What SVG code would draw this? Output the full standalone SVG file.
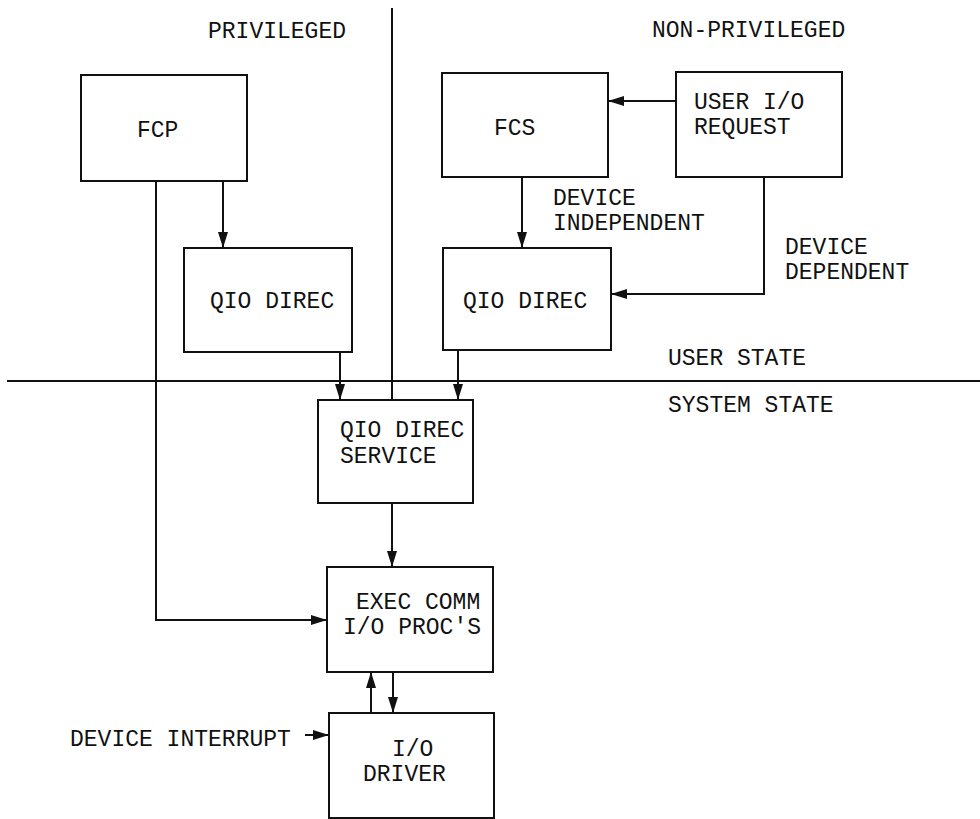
<svg xmlns="http://www.w3.org/2000/svg" width="980" height="819" viewBox="0 0 980 819">
<style>
.box{fill:none;stroke:#111;stroke-width:2}
.ln{fill:none;stroke:#111;stroke-width:2}
.ar{fill:none;stroke:#111;stroke-width:2;marker-end:url(#ah)}
text{font-family:"Liberation Mono","DejaVu Sans Mono",monospace;font-size:23px;fill:#111}
</style>
<defs>
<marker id="ah" markerUnits="userSpaceOnUse" markerWidth="16" markerHeight="10" refX="16" refY="5" orient="auto">
<path d="M0,0 L16,5 L0,10 z" fill="#111"/>
</marker>
</defs>
<rect width="980" height="819" fill="#fff"/>
<g id="dividers">
<path class="ln" d="M392,8 V400"/>
<path class="ln" d="M7,381 H980"/>
</g>
<g id="labels">
<text x="208" y="38">PRIVILEGED</text>
<text x="652" y="37">NON-PRIVILEGED</text>
<text x="553" y="205">DEVICE</text>
<text x="553" y="230">INDEPENDENT</text>
<text x="785" y="254">DEVICE</text>
<text x="785" y="279">DEPENDENT</text>
<text x="668" y="365">USER STATE</text>
<text x="668" y="412">SYSTEM STATE</text>
<text x="70" y="746">DEVICE INTERRUPT</text>
</g>
<g id="fcp"><rect class="box" x="81" y="75" width="166" height="106"/><text x="137" y="137">FCP</text></g>
<g id="qio-left"><rect class="box" x="184" y="248" width="168" height="104"/><text x="210" y="308">QIO DIREC</text></g>
<g id="fcs"><rect class="box" x="442" y="73" width="166" height="104"/><text x="494" y="135">FCS</text></g>
<g id="user-io"><rect class="box" x="676" y="72" width="166" height="105"/><text x="694" y="109">USER I/O</text><text x="694" y="134">REQUEST</text></g>
<g id="qio-right"><rect class="box" x="443" y="248" width="168" height="102"/><text x="463" y="308">QIO DIREC</text></g>
<g id="qio-service"><rect class="box" x="318" y="400" width="155" height="103"/><text x="340" y="437">QIO DIREC</text><text x="340" y="463">SERVICE</text></g>
<g id="exec-comm"><rect class="box" x="327" y="567" width="166" height="105"/><text x="356" y="609">EXEC COMM</text><text x="343" y="634">I/O PROC'S</text></g>
<g id="io-driver"><rect class="box" x="329" y="713" width="165" height="105"/><text x="392" y="756">I/O</text><text x="363" y="781">DRIVER</text></g>
<g id="connectors">
<path class="ar" d="M223,181 V248"/>
<path class="ar" d="M156,181 V620 H327"/>
<path class="ar" d="M340,352 V400"/>
<path class="ar" d="M458,350 V400"/>
<path class="ar" d="M676,101 H608"/>
<path class="ar" d="M522,177 V248"/>
<path class="ar" d="M764,177 V294 H611"/>
<path class="ar" d="M392,503 V567"/>
<path class="ar" d="M371,713 V672"/>
<path class="ar" d="M393,672 V713"/>
<path class="ar" d="M305,735 H329"/>
</g>
</svg>
